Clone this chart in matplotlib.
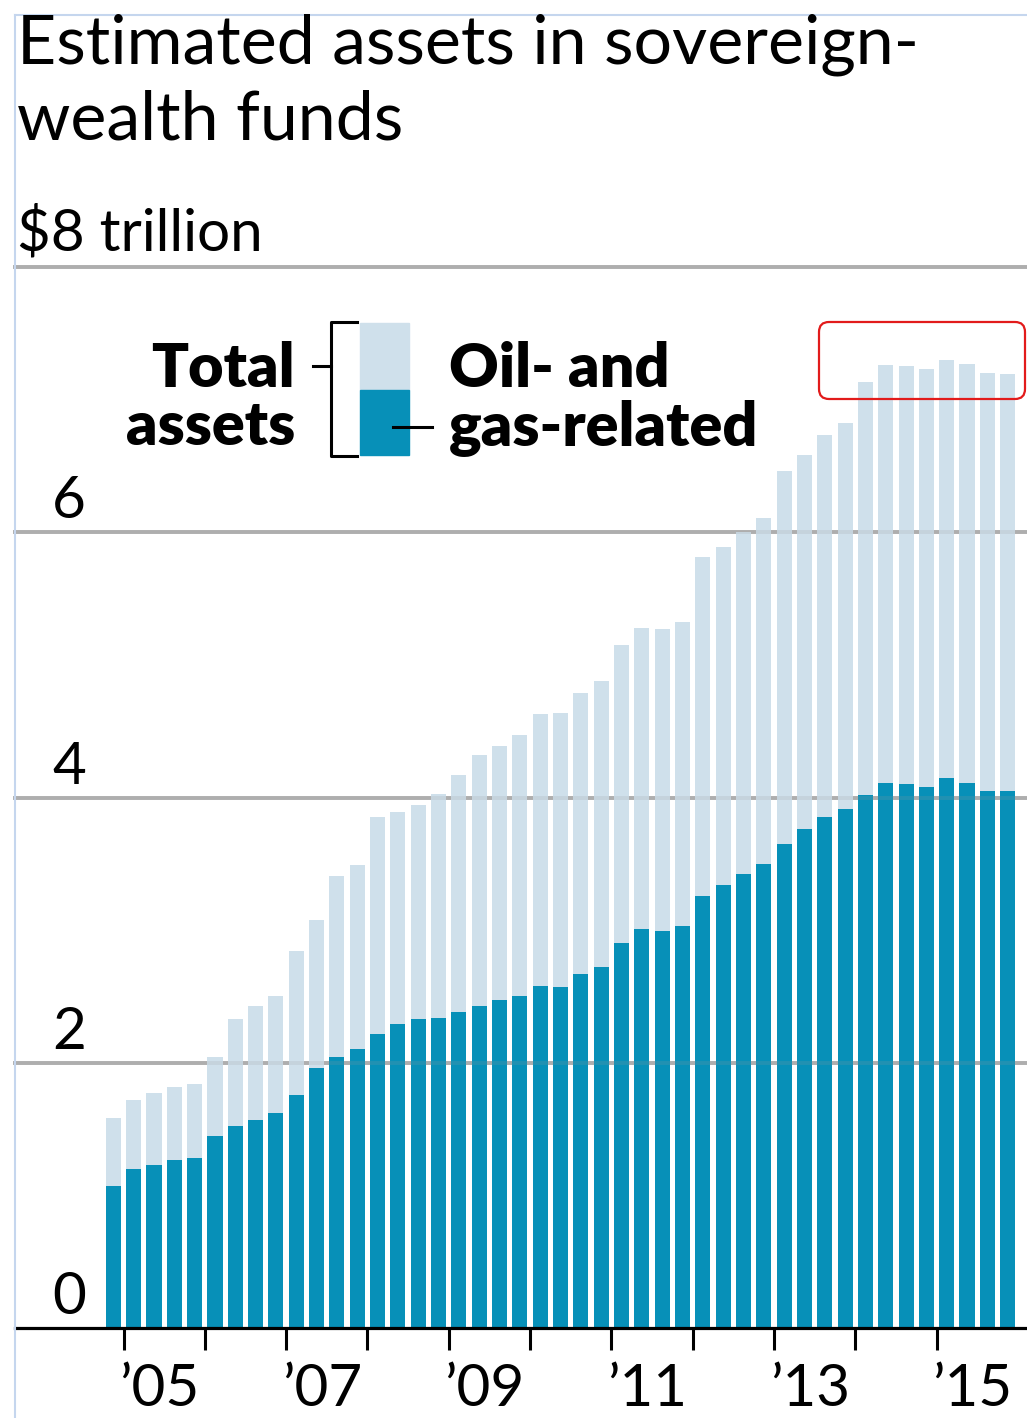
import numpy as np
import matplotlib
matplotlib.use('Agg')
import matplotlib.pyplot as plt
import matplotlib.patches as mpatches
from matplotlib.lines import Line2D
from matplotlib.transforms import IdentityTransform

plt.rcParams['font.family'] = ['Lato', 'DejaVu Sans']

# quarterly estimates, Q4 2004 .. Q4 2015, $ trillion
years = [2004] + [y for y in range(2005, 2016) for _ in range(4)]
quarters = [4] + [1, 2, 3, 4] * 11
total_assets = [1.58, 1.72, 1.77, 1.82, 1.84, 2.04, 2.33, 2.43, 2.50, 2.84,
                3.08, 3.41, 3.49, 3.85, 3.89, 3.94, 4.03, 4.17, 4.32, 4.39,
                4.47, 4.63, 4.64, 4.79, 4.88, 5.15, 5.28, 5.27, 5.32, 5.81,
                5.89, 6.00, 6.11, 6.46, 6.58, 6.73, 6.82, 7.13, 7.26, 7.25,
                7.23, 7.30, 7.27, 7.20, 7.19]
oil_gas = [1.07, 1.20, 1.23, 1.27, 1.28, 1.45, 1.52, 1.57, 1.62, 1.76,
           1.96, 2.04, 2.10, 2.22, 2.29, 2.33, 2.34, 2.38, 2.43, 2.47,
           2.50, 2.58, 2.57, 2.67, 2.72, 2.90, 3.01, 2.99, 3.03, 3.26,
           3.34, 3.42, 3.50, 3.65, 3.76, 3.85, 3.91, 4.02, 4.11, 4.10,
           4.08, 4.15, 4.11, 4.05, 4.05]

year_ticks = list(range(2005, 2016))
year_labels = ['\u201905', '\u201907', '\u201909', '\u201911', '\u201913', '\u201915']
year_label_pos = [2005.45, 2007.45, 2009.45, 2011.45, 2013.45, 2015.45]
y_vals = [0, 2, 4, 6]
y_labels = ['0', '2', '4', '6']

LIGHT = '#cfe0eb'
DARK = '#0790b8'

W, H = 1027, 1418
fig = plt.figure(figsize=(W / 100, H / 100), dpi=100)
fig.patch.set_facecolor('white')

ax = fig.add_axes([15 / W, 1 - 1328 / H, (1027 - 15) / W, (1328 - 267) / H])
x = np.array(years) + (np.array(quarters) - 1) * 0.25 + 0.125
ax.bar(x, total_assets, width=0.185, color=LIGHT, zorder=2)
ax.bar(x, oil_gas, width=0.185, color=DARK, zorder=2)
ax.set_xlim(2003.665, 2016.113)
ax.set_ylim(0, 8)

# grid: behind the bars, plus a faint pass over them
for v in [2, 4, 6, 8]:
    ax.axhline(v, color='#b3b3b3', lw=2.8, zorder=0, clip_on=False)
    ax.axhline(v, color='#9a9a9a', lw=2.8, alpha=0.18, zorder=3, clip_on=False)

for s in ['top', 'right', 'left']:
    ax.spines[s].set_visible(False)
ax.spines['bottom'].set_linewidth(2.3)
ax.spines['bottom'].set_zorder(4)

ax.set_yticks([])
ax.set_xticks(year_ticks)
ax.set_xticklabels([])
ax.tick_params(axis='x', which='major', length=16, width=2.2, color='black', direction='out')
ax.set_xticks(year_label_pos, minor=True)
ax.set_xticklabels(year_labels, minor=True, fontsize=42)
ax.tick_params(axis='x', which='minor', length=0, pad=25)

ytr = ax.get_yaxis_transform()
for v, lab in zip(y_vals, y_labels):
    ax.annotate(lab, xy=(71 / 1012, v), xycoords=ytr, xytext=(0, 10),
                textcoords='offset points', ha='right', va='baseline', fontsize=42)
ax.annotate('$8 trillion', xy=(2 / 1012, 8), xycoords=ytr, xytext=(0, 12),
            textcoords='offset points', ha='left', va='baseline', fontsize=42,
            annotation_clip=False)

# title
fig.text(17 / W, 1 - 63 / H, 'Estimated assets in sovereign-', fontsize=49, va='baseline')
fig.text(17 / W, 1 - 140 / H, 'wealth funds', fontsize=49, va='baseline')

# legend key
def fx(px):
    return px / W

def fy(py):
    return 1 - py / H

fig.text(fx(295), fy(387), 'Total', ha='right', va='baseline', fontsize=44, fontweight='heavy')
fig.text(fx(295), fy(445), 'assets', ha='right', va='baseline', fontsize=44, fontweight='heavy')
fig.text(fx(449), fy(387), 'Oil- and', ha='left', va='baseline', fontsize=44, fontweight='heavy')
fig.text(fx(449), fy(445), 'gas-related', ha='left', va='baseline', fontsize=44, fontweight='heavy')

idt = IdentityTransform()
fig.add_artist(mpatches.Rectangle((360, H - 390), 49, 67, color=LIGHT, transform=idt))
fig.add_artist(mpatches.Rectangle((360, H - 455), 49, 65, color=DARK, transform=idt))
fig.add_artist(Line2D([357, 331, 331, 357], [H - 322, H - 322, H - 456, H - 456],
                      color='black', lw=2.2, transform=idt))
fig.add_artist(Line2D([313, 331], [H - 366, H - 366], color='black', lw=2.2, transform=idt))
fig.add_artist(Line2D([393, 432], [H - 427, H - 427], color='black', lw=2.2, transform=idt))

# highlight box and frame lines from the source image
fig.add_artist(mpatches.FancyBboxPatch((819, H - 399), 206, 77,
                                       boxstyle='round,pad=0,rounding_size=10',
                                       ec='#e21b1b', fc='none', lw=1.6, transform=idt))
fig.add_artist(Line2D([15, 1027], [H - 15, H - 15], color='#c5d6ee', lw=1.5, transform=idt))
fig.add_artist(Line2D([15, 15], [H - 15, 0], color='#c5d6ee', lw=1.5, transform=idt))

fig.savefig('out.png', dpi=100)
